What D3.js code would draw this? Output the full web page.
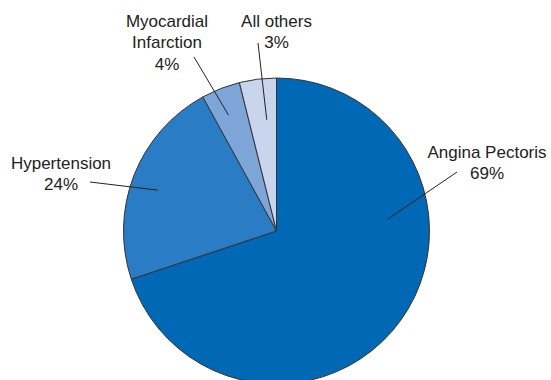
<!DOCTYPE html>
<html>
<head>
<meta charset="utf-8">
<script src="https://cdn.jsdelivr.net/npm/d3@7"></script>
<style>
  html, body { margin: 0; padding: 0; background: #fff; }
  text { font-family: "Liberation Sans", Arial, sans-serif; font-size: 17px; fill: #222; }
</style>
</head>
<body>
<script>
// categories, slice shares (as drawn) and the printed percentage labels
const categories = ["Angina Pectoris", "Hypertension", "Myocardial Infarction", "All others"];
const shares = [69.9, 22.1, 4.1, 3.9];
const pctLabels = ["69%", "24%", "4%", "3%"];

const colors = ["#0068b4", "#2a7cc4", "#7ea5d8", "#c8d5ec"];

const width = 551;
const height = 380;
const cx = 276.5, cy = 231, radius = 153;

// label layout: text lines, text centre/baseline, leader line (angle in deg, radius fraction) -> outer point
const labelLayout = [
  {lines: ["Angina Pectoris"], x: 487, y: 158, inner: [84, 0.73], outer: [457, 172]},
  {lines: ["Hypertension"], x: 61, y: 169, inner: [289, 0.82], outer: [90, 182]},
  {lines: ["Myocardial", "Infarction"], x: 167, y: 27, inner: [337.5, 0.82], outer: [194, 57]},
  {lines: ["All others"], x: 276.5, y: 27, inner: [355, 0.73], outer: [258, 43]}
];

const svg = d3.select("body").append("svg")
  .attr("width", width)
  .attr("height", height);

const pie = d3.pie().sort(null).value((d) => d);
const arc = d3.arc().innerRadius(0).outerRadius(radius);

const g = svg.append("g").attr("transform", `translate(${cx},${cy})`);

g.selectAll("path")
  .data(pie(shares))
  .enter()
  .append("path")
  .attr("d", arc)
  .attr("fill", (d, i) => colors[i])
  .attr("stroke", "#333")
  .attr("stroke-width", 1);

// leader lines
const polar = ([deg, f]) => {
  const a = deg * Math.PI / 180;
  return [cx + Math.sin(a) * radius * f, cy - Math.cos(a) * radius * f];
};

svg.append("g")
  .selectAll("line")
  .data(labelLayout)
  .enter()
  .append("line")
  .attr("x1", (d) => polar(d.inner)[0])
  .attr("y1", (d) => polar(d.inner)[1])
  .attr("x2", (d) => d.outer[0])
  .attr("y2", (d) => d.outer[1])
  .attr("stroke", "#222")
  .attr("stroke-width", 1);

// labels
const labels = svg.append("g")
  .selectAll("text")
  .data(labelLayout)
  .enter()
  .append("text")
  .attr("text-anchor", "middle")
  .attr("x", (d) => d.x)
  .attr("y", (d) => d.y);

labels.each(function(d, i) {
  const t = d3.select(this);
  d.lines.concat([pctLabels[i]]).forEach((line, j) => {
    t.append("tspan")
      .attr("x", d.x)
      .attr("dy", j === 0 ? 0 : 21.3)
      .text(line);
  });
});
</script>
</body>
</html>
